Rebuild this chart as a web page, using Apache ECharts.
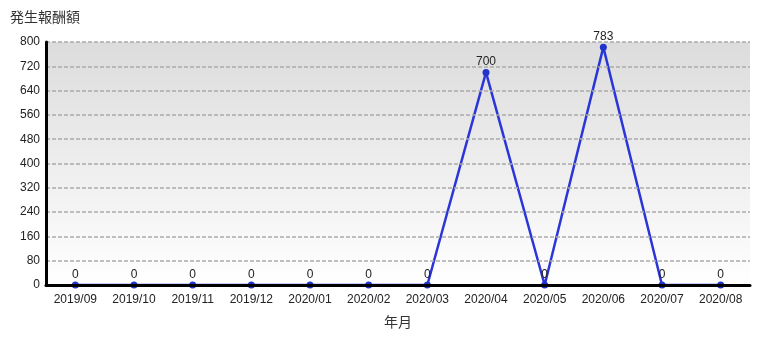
<!DOCTYPE html>
<html><head><meta charset="utf-8">
<script src="https://cdn.jsdelivr.net/npm/echarts@6/dist/echarts.min.js"></script>
<style>html,body{margin:0;padding:0;background:#fff}#c{width:771px;height:337px}</style>
</head><body><div id="c"></div>
<script>
const categories = ['2019/09','2019/10','2019/11','2019/12','2020/01','2020/02','2020/03','2020/04','2020/05','2020/06','2020/07','2020/08'];
const values = [0,0,0,0,0,0,0,700,0,783,0,0];
const yTicks = [0,80,160,240,320,400,480,560,640,720,800];

const chart = echarts.init(document.getElementById('c'));
const font = 'Arial, "Liberation Sans", "Noto Sans CJK JP", sans-serif';
chart.setOption({
  animation: false,
  textStyle: {fontFamily: font},
  grid: {left: 46, right: 21, top: 42, bottom: 52,
    show: true, borderWidth: 0,
    backgroundColor: new echarts.graphic.LinearGradient(0,0,0,1,[{offset:0,color:'#dcdcdc'},{offset:1,color:'#ffffff'}])},
  xAxis: {
    type: 'category', data: categories, boundaryGap: true, z: 5,
    name: '年月', nameLocation: 'middle', nameGap: 31,
    nameTextStyle: {fontSize: 14, color: '#333', fontFamily: font},
    axisLine: {lineStyle: {color: '#000', width: 3}},
    axisTick: {show: false},
    axisLabel: {color: '#222', fontSize: 12, margin: 9, interval: 0, fontFamily: font}
  },
  yAxis: {
    type: 'value', min: yTicks[0], max: yTicks[yTicks.length-1], interval: 80, z: 5,
    name: '発生報酬額', nameLocation: 'end', nameGap: 17,
    nameTextStyle: {fontSize: 14, color: '#333', align: 'left', padding: [0,0,0,-36], fontFamily: font},
    axisLine: {show: true, lineStyle: {color: '#000', width: 3}},
    axisTick: {show: false},
    axisLabel: {color: '#222', fontSize: 12, margin: 6, fontFamily: font},
    splitLine: {lineStyle: {color: '#aaaaaa', type: [4,2], width: 1.5}}
  },
  series: [{
    type: 'line', data: values,
    symbol: 'circle', symbolSize: 7,
    lineStyle: {color: '#2b36d8', width: 2.5},
    itemStyle: {color: '#2233cc'},
    label: {show: true, position: 'top', color: '#222', fontSize: 12, distance: 1, fontFamily: font}
  }]
});
</script></body></html>
